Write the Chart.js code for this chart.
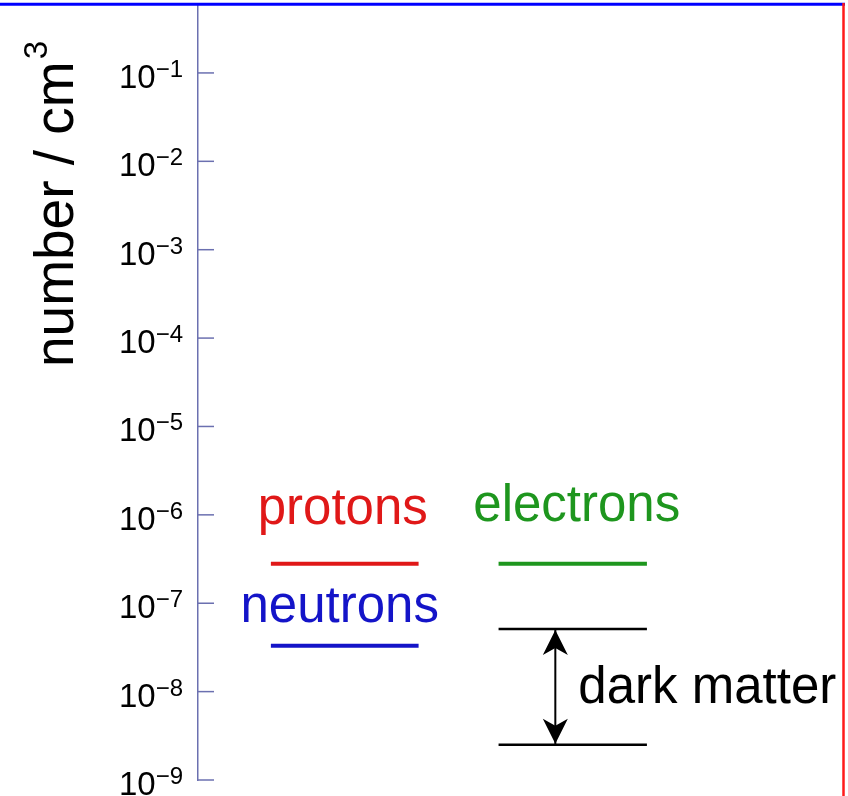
<!DOCTYPE html>
<html>
<head>
<meta charset="utf-8">
<script src="https://cdn.jsdelivr.net/npm/chart.js@4/dist/chart.umd.min.js"></script>
<style>
  body { margin: 0; background: #fff; }
  canvas { display: block; }
</style>
</head>
<body>
<canvas id="myChart" width="848" height="796"></canvas>
<script>
// data: each species is a short horizontal bar at its number density
const seriesNames = ['protons', 'neutrons', 'electrons', 'dark matter (high)', 'dark matter (low)'];
const xStart = [11.3, 11.3, 46.6, 46.6, 46.6];
const xEnd = [34.2, 34.2, 69.6, 69.6, 69.6];
const densities = [2.8e-7, 3.3e-8, 2.8e-7, 5.1e-8, 2.5e-9];
const seriesColors = ['#e01818', '#1414c8', '#1e961e', '#000000', '#000000'];
const lineWidths = [4, 4, 4, 2.5, 2.5];

// dark matter range arrow (x position, between the two dark matter bars)
const arrowX = 55.4;

// y axis: log scale, ticks at powers of ten
const tickExponents = [-9, -8, -7, -6, -5, -4, -3, -2, -1];
const yMin = 1e-9;
const yMax = 0.587;

const FONT = '"Liberation Sans", Arial, Helvetica, sans-serif';
const AXIS_COLOR = '#6b70b0';

// text labels next to the bars (offsets in pixels from the bar centre)
const labels = [
  { text: 'protons', series: 0, color: '#e01818', dx: -2, dy: -40 },
  { text: 'neutrons', series: 1, color: '#1414c8', dx: -5, dy: -24 },
  { text: 'electrons', series: 2, color: '#1e961e', dx: 4, dy: -43 }
];

const datasets = seriesNames.map((name, i) => ({
  label: name,
  data: [{ x: xStart[i], y: densities[i] }, { x: xEnd[i], y: densities[i] }],
  borderColor: seriesColors[i],
  borderWidth: lineWidths[i],
  pointRadius: 0,
  fill: false,
  tension: 0
}));

// shaft of the double arrow
datasets.push({
  label: 'dark matter range',
  data: [{ x: arrowX, y: densities[3] }, { x: arrowX, y: densities[4] }],
  borderColor: '#000',
  borderWidth: 2,
  pointRadius: 0,
  fill: false
});

function drawArrowHead(ctx, x, yTip, dir) {
  // dir = 1 points up, -1 points down
  ctx.beginPath();
  ctx.moveTo(x, yTip);
  ctx.lineTo(x - 12.5, yTip + dir * 25);
  ctx.lineTo(x, yTip + dir * 18);
  ctx.lineTo(x + 12.5, yTip + dir * 25);
  ctx.closePath();
  ctx.fill();
}

const decorations = {
  id: 'decorations',
  afterDraw: (chart) => {
    const ctx = chart.ctx;
    const xs = chart.scales.x;
    const ys = chart.scales.y;
    const area = chart.chartArea;
    ctx.save();

    // frame lines: blue on top, red on the right
    ctx.strokeStyle = '#0000ff';
    ctx.lineWidth = 3;
    ctx.beginPath();
    ctx.moveTo(0, 4.2);
    ctx.lineTo(area.right + 2, 4.2);
    ctx.stroke();
    ctx.strokeStyle = '#ff1a1a';
    ctx.lineWidth = 2.5;
    ctx.beginPath();
    ctx.moveTo(area.right + 0.5, 3);
    ctx.lineTo(area.right + 0.5, chart.height);
    ctx.stroke();

    // tick marks pointing into the plot
    ctx.strokeStyle = AXIS_COLOR;
    ctx.lineWidth = 1.5;
    tickExponents.forEach(e => {
      const y = ys.getPixelForValue(Math.pow(10, e));
      ctx.beginPath();
      ctx.moveTo(area.left, y);
      ctx.lineTo(area.left + 16, y);
      ctx.stroke();
    });

    // tick labels 10^n
    ctx.fillStyle = '#000';
    ctx.textAlign = 'right';
    ctx.textBaseline = 'alphabetic';
    tickExponents.forEach(e => {
      const y = ys.getPixelForValue(Math.pow(10, e));
      const sup = '\u2212' + Math.abs(e);
      ctx.font = '24px ' + FONT;
      const supW = ctx.measureText(sup).width;
      ctx.fillText(sup, 183, y + 4);
      ctx.font = '33px ' + FONT;
      ctx.fillText('10', 183 - supW, y + 15);
    });

    // y axis title
    ctx.save();
    ctx.translate(73, 367);
    ctx.rotate(-Math.PI / 2);
    ctx.textAlign = 'left';
    ctx.font = '55px ' + FONT;
    const base = 'number / cm';
    ctx.fillText(base, 0, 0);
    const baseW = ctx.measureText(base).width;
    ctx.font = '33px ' + FONT;
    ctx.fillText('3', baseW + 2, -26);
    ctx.restore();

    // labels for the bars
    ctx.font = '51px ' + FONT;
    ctx.textAlign = 'center';
    labels.forEach(l => {
      const cx = (xs.getPixelForValue(xStart[l.series]) + xs.getPixelForValue(xEnd[l.series])) / 2;
      const y = ys.getPixelForValue(densities[l.series]) + l.dy;
      ctx.fillStyle = l.color;
      ctx.fillText(l.text, cx + l.dx, y);
    });

    // dark matter arrow heads and label
    const ax = xs.getPixelForValue(arrowX);
    const yTop = ys.getPixelForValue(densities[3]);
    const yBot = ys.getPixelForValue(densities[4]);
    ctx.fillStyle = '#000';
    drawArrowHead(ctx, ax, yTop + 1, 1);
    drawArrowHead(ctx, ax, yBot - 1, -1);
    ctx.textAlign = 'left';
    ctx.fillText('dark matter', ax + 23, (yTop + yBot) / 2 + 16);

    ctx.restore();
  }
};

const config = {
  type: 'line',
  data: { datasets: datasets },
  options: {
    responsive: false,
    animation: false,
    layout: { padding: { top: 5, bottom: 16, left: 0, right: 5 } },
    plugins: {
      legend: { display: false },
      tooltip: { enabled: false }
    },
    scales: {
      x: {
        type: 'linear',
        min: 0,
        max: 100,
        display: false
      },
      y: {
        type: 'logarithmic',
        min: yMin,
        max: yMax,
        grid: { display: false },
        border: { display: true, color: AXIS_COLOR, width: 1.5 },
        ticks: { display: false },
        afterBuildTicks: (scale) => {
          scale.ticks = tickExponents.map(e => ({ value: Math.pow(10, e) }));
        },
        afterFit: (scale) => {
          scale.width = 198;
          scale.paddingTop = 0;
          scale.paddingBottom = 0;
        }
      }
    }
  },
  plugins: [decorations]
};

const chart = new Chart(document.getElementById('myChart').getContext('2d'), config);
</script>
</body>
</html>
